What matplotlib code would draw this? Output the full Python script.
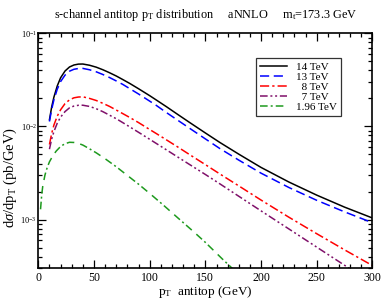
#!/usr/bin/env python3
"""s-channel antitop pT distribution at aNNLO for several collider energies."""

import matplotlib
matplotlib.use("Agg")
import matplotlib.pyplot as plt
from matplotlib.ticker import MultipleLocator, LogLocator, NullFormatter

plt.rcParams["font.family"] = ["Liberation Serif", "DejaVu Serif"]
plt.rcParams["mathtext.fontset"] = "custom"
plt.rcParams["mathtext.rm"] = "Liberation Serif"
plt.rcParams["mathtext.it"] = "Liberation Serif:italic"

# ---- data (pT in GeV, dsigma/dpT in pb/GeV) ----
pt_hi = [10, 12, 14, 17, 20, 24, 28, 32, 36, 40,
         46, 52, 58, 64, 70, 76, 82, 90, 100,
         106, 115, 125, 136, 150, 163, 180, 200, 225, 250, 275, 300]

tev14 = [0.0118, 0.0162, 0.02065, 0.0272, 0.0333, 0.0394, 0.0435, 0.0457, 0.0467, 0.0468,
         0.0454, 0.0433, 0.0406, 0.0377, 0.0348, 0.0318, 0.0290, 0.0254, 0.0214,
         0.0192, 0.0163, 0.0135, 0.0110, 0.00851, 0.00673, 0.00504, 0.00363, 0.00253,
         0.00183, 0.00136, 0.00104]

tev13 = [0.0113, 0.0153, 0.0193, 0.0251, 0.0303, 0.0356, 0.0392, 0.0411, 0.0419, 0.0420,
         0.0406, 0.0386, 0.0361, 0.0335, 0.0308, 0.0282, 0.0255, 0.0223, 0.0187,
         0.0168, 0.0141, 0.0117, 0.00953, 0.00735, 0.00579, 0.00435, 0.00315, 0.00221,
         0.00161, 0.00121, 0.000925]

tev8 = [0.0064, 0.00841, 0.01035, 0.0129, 0.0151, 0.0176, 0.0193, 0.0203, 0.0207, 0.0208,
        0.0200, 0.0190, 0.0177, 0.0164, 0.0150, 0.0137, 0.0125, 0.0110, 0.00927,
        0.00838, 0.00718, 0.00604, 0.00497, 0.00389, 0.00309, 0.0023, 0.00162, 0.00106,
        0.000705, 0.000473, 0.000321]

tev7 = [0.0057, 0.00733, 0.00881, 0.01084, 0.0126, 0.01445, 0.01585, 0.01656, 0.01687, 0.0169,
        0.0164, 0.0155, 0.0144, 0.0132, 0.0121, 0.01096, 0.00991, 0.00865, 0.00728,
        0.00656, 0.00561, 0.00471, 0.00389, 0.00305, 0.00242, 0.00178, 0.00124, 0.000793,
        0.000506, 0.000323, 0.000206]

pt_tev = [2, 3, 4, 6, 8, 10, 13, 16, 20, 24, 28, 32, 36, 40, 46, 52, 60, 70, 82,
          90, 100, 112, 125, 140, 150, 165, 180]
tev196 = [0.00129, 0.00182, 0.00229, 0.00302, 0.00363, 0.00417, 0.00484, 0.00543,
          0.0061, 0.00653, 0.00676, 0.00673, 0.00658, 0.00631, 0.00575, 0.00521,
          0.0045, 0.00369, 0.00285, 0.0024, 0.00191, 0.00144, 0.00105, 0.000731,
          0.000569, 0.00038, 0.000257]

# figure spaces keep the legend labels right-aligned as in the original
labels = ["14 TeV", "13 TeV", "\u20078 TeV", "\u20077 TeV", "1.96 TeV"]


def main() -> None:
    fig = plt.figure(figsize=(3.82, 2.99), dpi=100)
    ax = fig.add_axes([0.1003, 0.1027, 0.8747, 0.7859])

    lw = 1.1
    ax.plot(pt_hi, tev14, color="black", lw=lw, label=labels[0])
    ax.plot(pt_hi, tev13, color="blue", lw=lw, ls=(0, (6, 3)), label=labels[1])
    ax.plot(pt_hi, tev8, color="red", lw=lw, ls=(0, (6, 2, 1.5, 2)), label=labels[2])
    ax.plot(pt_hi, tev7, color="#80106a", lw=lw, ls=(0, (5, 1.8, 1.3, 1.8, 1.3, 1.8)),
            label=labels[3])
    ax.plot(pt_tev, tev196, color="#1e9a1e", lw=lw, ls=(0, (5, 2, 1.3, 2, 5, 4)),
            label=labels[4])

    ax.set_yscale("log")
    ax.set_xlim(0, 300)
    ax.set_ylim(3e-4, 0.1)

    ax.xaxis.set_major_locator(MultipleLocator(50))
    ax.xaxis.set_minor_locator(MultipleLocator(10))
    ax.yaxis.set_major_locator(LogLocator(base=10, numticks=10))
    ax.yaxis.set_minor_locator(LogLocator(base=10, subs=range(2, 10), numticks=20))
    ax.yaxis.set_minor_formatter(NullFormatter())
    ax.tick_params(which="both", direction="in", top=True, right=True, width=0.9)
    ax.tick_params(which="major", length=6)
    ax.tick_params(which="minor", length=3)
    ax.tick_params(axis="x", labelsize=8.5, pad=3)
    ax.tick_params(axis="y", labelsize=6, pad=1)
    for s in ax.spines.values():
        s.set_linewidth(1.2)

    ax.set_xlabel(r"p$\mathregular{_T}$  antitop (GeV)", fontsize=9.5, labelpad=0)
    ax.set_ylabel(r"d$\sigma$/dp$\mathregular{_T}$ (pb/GeV)", fontsize=10.5)
    ax.yaxis.set_label_coords(-0.057, 0.385)
    ax.set_title(r"s-channel antitop p$\mathregular{_T}$ distribution     aNNLO     "
                 r"m$\mathregular{_t}$=173.3 GeV", fontsize=8.8, pad=11)

    leg = ax.legend(loc="upper right", bbox_to_anchor=(0.905, 0.895), fontsize=8,
                    frameon=True, fancybox=False, edgecolor="black",
                    handlelength=2.4, handletextpad=0.8, labelspacing=0.02,
                    borderpad=0.35, borderaxespad=0)
    leg.get_frame().set_linewidth(0.9)

    fig.savefig("out.png", dpi=100)
    plt.close(fig)


if __name__ == "__main__":
    main()
